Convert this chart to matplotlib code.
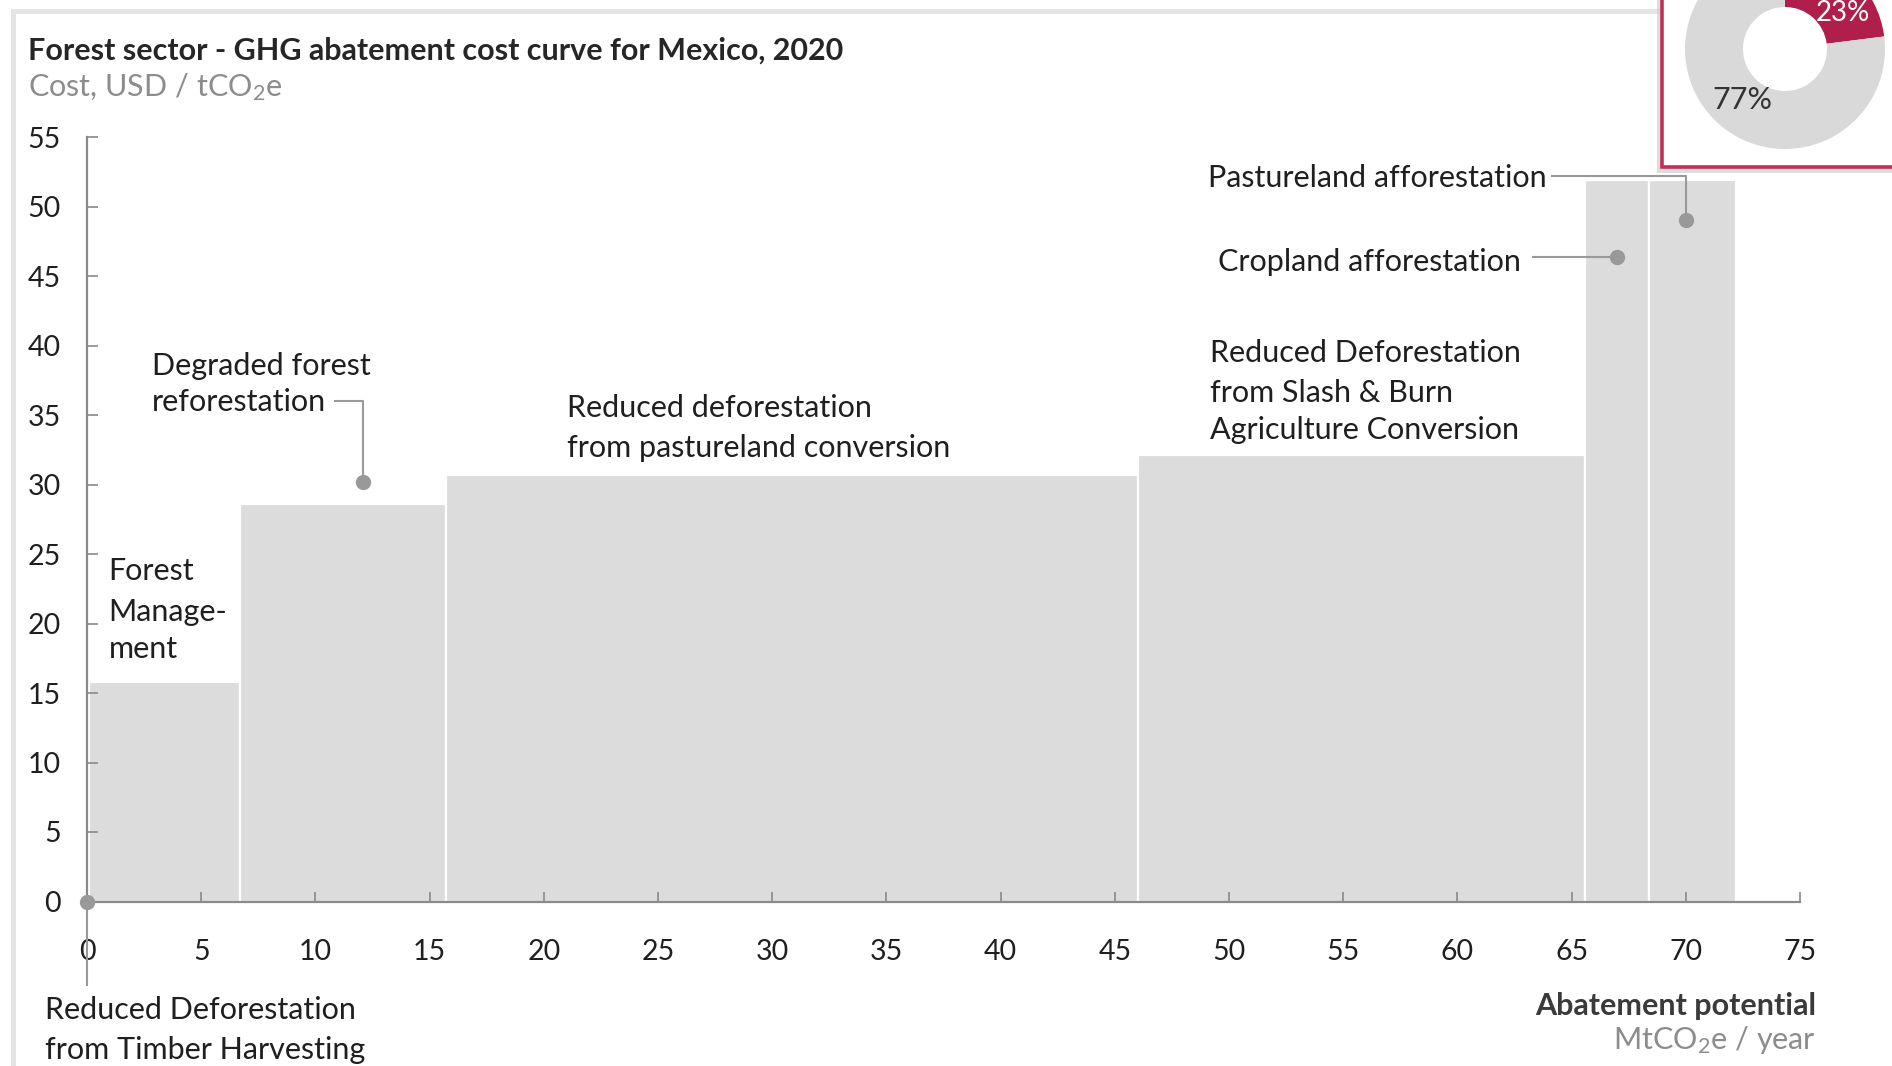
import matplotlib
matplotlib.use("Agg")
import matplotlib.pyplot as plt
from matplotlib.patches import Rectangle
import numpy as np

# ---------------- data ----------------
measures = [
    "Reduced Deforestation\nfrom Timber Harvesting",
    "Forest\nManage-\nment",
    "Degraded forest\nreforestation",
    "Reduced deforestation\nfrom pastureland conversion",
    "Reduced Deforestation\nfrom Slash & Burn\nAgriculture Conversion",
    "Cropland afforestation",
    "Pastureland afforestation",
]
potential = [0.1, 6.6, 9.0, 30.3, 19.6, 2.8, 3.8]      # MtCO2e / year (bar widths)
cost = [0.0, 15.8, 28.6, 30.7, 32.1, 51.9, 51.9]       # USD / tCO2e (bar heights)
x_ticks = list(range(0, 80, 5))
y_ticks = list(range(0, 60, 5))
donut_shares = [23, 77]
donut_labels = ["23%", "77%"]

# ---------------- style ----------------
plt.rcParams['font.family'] = ['Lato', 'DejaVu Sans']
plt.rcParams['mathtext.fontset'] = 'custom'
plt.rcParams['mathtext.rm'] = 'Lato'
plt.rcParams['mathtext.it'] = 'Lato:italic'
plt.rcParams['mathtext.bf'] = 'Lato:bold'

W, H = 1892, 1066
BAR = '#DCDCDC'
AXC = '#8A8A8A'
DOT = '#999999'
TXT = '#1F1F1F'
GREY_TXT = '#8C8C8C'
CRIMSON = '#B01E4B'
FS_TICK = 20.5
FS = 22
BASE_OFF = 10.5   # px from visual line centre to baseline

fig = plt.figure(figsize=(W / 100, H / 100), dpi=100)

def fx(px):
    return px / W

def fy(py):
    return 1 - py / H

# outer light frame
fig.patches.append(Rectangle((fx(12.5), fy(1200)), fx(2000), fy(10.5) - fy(1200),
                             transform=fig.transFigure, fill=False,
                             edgecolor='#E4E4E4', linewidth=3.6))

# ---------------- main axes ----------------
x0, x1, y0, y1 = 87, 1800, 901.5, 137
ax = fig.add_axes([fx(x0), fy(y0), fx(x1 - x0), fy(y1) - fy(y0)])
lefts = np.concatenate([[0], np.cumsum(potential)[:-1]])
ax.bar(lefts, cost, width=potential, align='edge', color=BAR,
       edgecolor='white', linewidth=1.6, zorder=1)
ax.set_xlim(0, 75)
ax.set_ylim(0, 55)
ax.set_xticks(x_ticks)
ax.set_yticks(y_ticks)
for s in ['top', 'right']:
    ax.spines[s].set_visible(False)
for s in ['left', 'bottom']:
    ax.spines[s].set_color(AXC)
    ax.spines[s].set_linewidth(1.6)
    ax.spines[s].set_zorder(3)
ax.tick_params(axis='y', direction='in', length=8, width=1.2, color=AXC,
               labelsize=FS_TICK, labelcolor=TXT, pad=19)
ax.tick_params(axis='x', direction='in', length=7, width=1.2, color=AXC,
               labelsize=FS_TICK, labelcolor=TXT, pad=27)
ax.patch.set_alpha(0)

# callout anchors derived from bar geometry
mid = lefts + np.array(potential) * np.array([0.0, 0.5, 0.6, 0.5, 0.5, 0.5, 0.42])
anchor = {
    0: (mid[0], cost[0]),
    2: (mid[2], cost[2] + 1.6),
    5: (mid[5], cost[5] - 5.5),
    6: (mid[6], cost[6] - 2.9),
}
lk = dict(color=DOT, linewidth=1.5, clip_on=False, zorder=4)
ax.plot([anchor[0][0], anchor[0][0]], [anchor[0][1], -6.0], **lk)
ax.plot([10.85, anchor[2][0], anchor[2][0]], [36.0, 36.0, anchor[2][1]], **lk)
ax.plot([63.3, anchor[5][0]], [anchor[5][1], anchor[5][1]], **lk)
ax.plot([64.15, anchor[6][0], anchor[6][0]], [52.2, 52.2, anchor[6][1]], **lk)
for k, (xa, ya) in anchor.items():
    ax.plot([xa], [ya], 'o', color=DOT, markersize=10, clip_on=False, zorder=5)

# ---------------- texts ----------------
def line_text(px, pcy, s, **kw):
    fig.text(fx(px), fy(pcy + BASE_OFF), s, va='baseline', ha=kw.pop('ha', 'left'), **kw)

line_text(28, 49.5, "Forest sector - GHG abatement cost curve for Mexico, 2020",
          fontsize=FS, fontweight='bold', color='#262626')
line_text(28, 86, "Cost, USD / tCO$_2$e", fontsize=FS, color=GREY_TXT)

label_lines = {
    0: (44.6, [1008.7, 1048.5]),
    1: (108.6, [569.5, 610.5, 648.0]),
    2: (152.0, [364.4, 400.6]),
    3: (567.0, [406.6, 446.4]),
    4: (1210.0, [351.1, 391.0, 428.3]),
    5: (1217.5, [260.6]),
    6: (1208.0, [176.2]),
}
for i, (px, ys) in label_lines.items():
    for line, py in zip(measures[i].split("\n"), ys):
        line_text(px, py, line, fontsize=FS, color=TXT)

line_text(1816, 1004, "Abatement potential", fontsize=FS, fontweight='bold',
          color='#3A3A3A', ha='right')
line_text(1816, 1039, "MtCO$_2$e / year", fontsize=FS, color=GREY_TXT, ha='right')

# ---------------- donut inset ----------------
fig.patches.append(Rectangle((fx(1657), fy(173)), fx(400), 1.0,
                             transform=fig.transFigure, facecolor='#CFCFCF',
                             edgecolor='none', alpha=0.7, zorder=5))
fig.patches.append(Rectangle((fx(1662), fy(167)), fx(400), 1.0,
                             transform=fig.transFigure, facecolor='white',
                             edgecolor='#C2305A', linewidth=2.6, zorder=6))
cx, cy, R, r = 1785, 49, 100, 42
dax = fig.add_axes([fx(cx - R), fy(cy + R), fx(2 * R), fy(cy - R) - fy(cy + R)])
dax.set_zorder(7)
dax.pie(donut_shares, colors=[CRIMSON, '#D9D9D9'], startangle=90, counterclock=False,
        radius=1, wedgeprops=dict(width=(R - r) / R, edgecolor='none'))
dax.set_xlim(-1, 1)
dax.set_ylim(-1, 1)
dax.set_aspect('auto')
dax.axis('off')
dax.text(0.58, 0.36, donut_labels[0], fontsize=FS - 2, color='white', ha='center', va='center')
dax.text(-0.43, -0.51, donut_labels[1], fontsize=FS, color='#333333', ha='center', va='center')

fig.savefig("out.png", dpi=100)
